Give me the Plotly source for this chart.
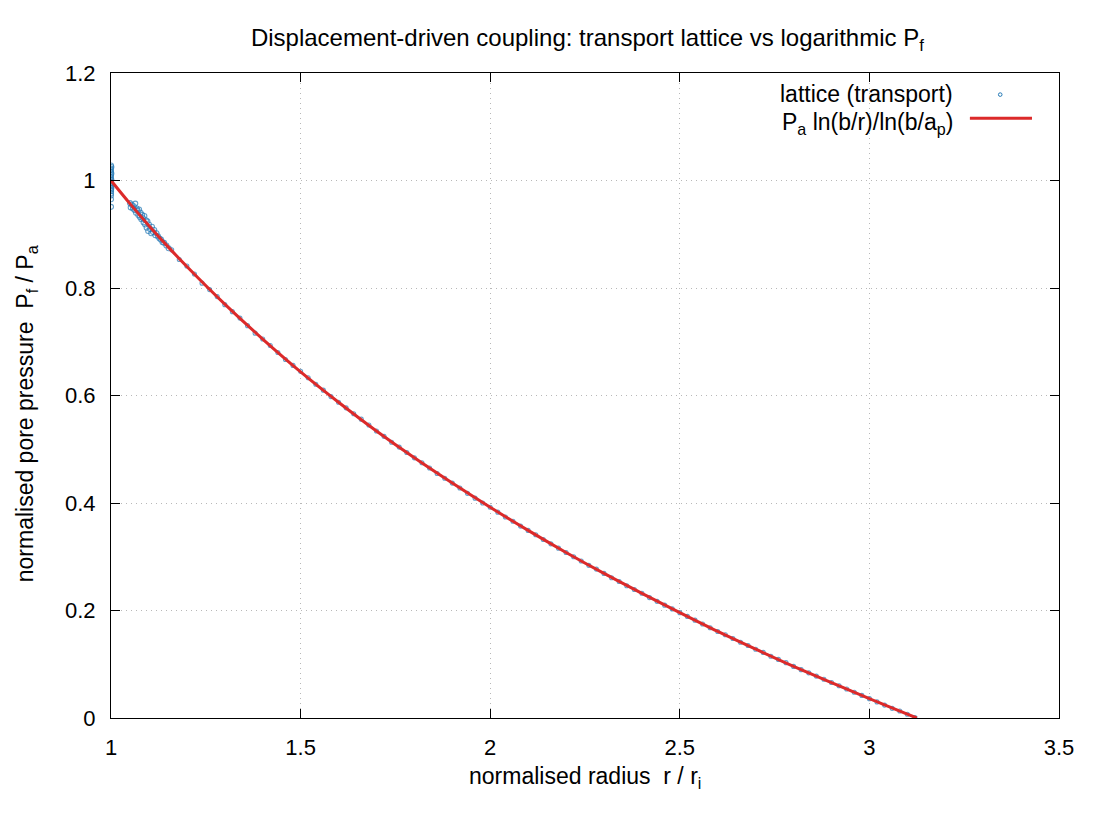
import plotly.graph_objects as go

# ---- data ----
# analytic curve  P_a ln(b/r)/ln(b/a_p)
curve_r = [1.0, 1.05, 1.1, 1.15, 1.2, 1.3, 1.4, 1.5, 1.6, 1.7, 1.8, 1.9, 2.0,
           2.1, 2.2, 2.3, 2.4, 2.5, 2.6, 2.7, 2.8, 2.9, 3.0, 3.125]
curve_p = [1.000, 0.957, 0.916, 0.877, 0.840, 0.770, 0.705, 0.644, 0.5875, 0.534,
           0.484, 0.437, 0.392, 0.349, 0.308, 0.269, 0.232, 0.196, 0.161, 0.128,
           0.096, 0.066, 0.036, 0.000]

# lattice (transport) nodes: inner boundary column
wall_r = [1.0, 1.001, 1.0, 0.999, 1.0, 1.001, 1.0, 0.999, 1.0, 1.001, 1.0, 1.0,
          0.999, 1.0, 1.001, 1.0, 1.0, 1.0, 1.0, 1.0, 1.0]
wall_p = [1.028, 1.025, 1.022, 1.019, 1.016, 1.013, 1.010, 1.007, 1.004, 1.001,
          0.998, 0.995, 0.992, 0.989, 0.986, 0.983, 0.980, 0.976, 0.972, 0.965, 0.951]

# lattice nodes: scattered cluster near the wall
near_r = [1.050, 1.052, 1.055, 1.058, 1.060, 1.062, 1.064, 1.066, 1.068, 1.070,
          1.072, 1.074, 1.076, 1.078, 1.080, 1.082, 1.084, 1.086, 1.088, 1.090,
          1.092, 1.094, 1.096, 1.098, 1.100, 1.103, 1.106, 1.108, 1.111, 1.114,
          1.117, 1.120, 1.124, 1.128, 1.132, 1.136, 1.140, 1.146, 1.152]
near_p = [0.958, 0.950, 0.955, 0.948, 0.952, 0.945, 0.957, 0.940, 0.948, 0.944,
          0.936, 0.946, 0.932, 0.940, 0.928, 0.936, 0.930, 0.922, 0.934, 0.918,
          0.926, 0.912, 0.924, 0.906, 0.918, 0.910, 0.902, 0.914, 0.904, 0.908,
          0.898, 0.902, 0.896, 0.892, 0.890, 0.885, 0.884, 0.879, 0.874]

# lattice nodes: far field
far_r = [1.16, 1.18, 1.20, 1.22, 1.24, 1.26, 1.28, 1.30, 1.32, 1.34, 1.36, 1.38,
         1.40, 1.42, 1.44, 1.46, 1.48, 1.50, 1.52, 1.54, 1.56, 1.58, 1.60, 1.62,
         1.64, 1.66, 1.68, 1.70, 1.72, 1.74, 1.76, 1.78, 1.80, 1.82, 1.84, 1.86,
         1.88, 1.90, 1.92, 1.94, 1.96, 1.98, 2.00, 2.02, 2.04, 2.06, 2.08, 2.10,
         2.12, 2.14, 2.16, 2.18, 2.20, 2.22, 2.24, 2.26, 2.28, 2.30, 2.32, 2.34,
         2.36, 2.38, 2.40, 2.42, 2.44, 2.46, 2.48, 2.50, 2.52, 2.54, 2.56, 2.58,
         2.60, 2.62, 2.64, 2.66, 2.68, 2.70, 2.72, 2.74, 2.76, 2.78, 2.80, 2.82,
         2.84, 2.86, 2.88, 2.90, 2.92, 2.94, 2.96, 2.98, 3.00, 3.02, 3.04, 3.06,
         3.08, 3.10, 3.12]
far_p = [0.871, 0.853, 0.841, 0.826, 0.809, 0.797, 0.784, 0.769, 0.756, 0.744,
         0.730, 0.716, 0.705, 0.693, 0.680, 0.667, 0.656, 0.645, 0.633, 0.621,
         0.610, 0.598, 0.5875, 0.577, 0.566, 0.556, 0.545, 0.534, 0.524, 0.513,
         0.504, 0.494, 0.484, 0.475, 0.465, 0.455, 0.446, 0.437, 0.428, 0.418,
         0.409, 0.400, 0.392, 0.383, 0.374, 0.366, 0.357, 0.349, 0.341, 0.332,
         0.324, 0.316, 0.308, 0.300, 0.292, 0.284, 0.277, 0.269, 0.261, 0.254,
         0.246, 0.239, 0.232, 0.224, 0.217, 0.210, 0.203, 0.196, 0.189, 0.182,
         0.175, 0.168, 0.161, 0.155, 0.148, 0.141, 0.135, 0.128, 0.122, 0.115,
         0.109, 0.103, 0.096, 0.090, 0.084, 0.078, 0.072, 0.066, 0.060, 0.054,
         0.048, 0.042, 0.036, 0.030, 0.024, 0.018, 0.013, 0.007, 0.001]

lattice_r = wall_r + near_r + far_r
lattice_p = wall_p + near_p + far_p

x_ticks = [1, 1.5, 2, 2.5, 3, 3.5]
y_ticks = [0, 0.2, 0.4, 0.6, 0.8, 1, 1.2]

BLUE = "#2278b5"
RED = "#dc2a2a"
FONT = "Liberation Sans, Arial, Helvetica, sans-serif"

marker_sizes = [5] * (len(wall_r) + len(near_r)) + [4] * len(far_r)

fig = go.Figure()
fig.add_trace(go.Scatter(
    x=lattice_r, y=lattice_p, mode="markers", name="lattice (transport)",
    marker=dict(symbol="circle-open", size=marker_sizes, color=BLUE,
                line=dict(width=1.1, color=BLUE)),
    showlegend=False))
fig.add_trace(go.Scatter(
    x=curve_r, y=curve_p, mode="lines", name="P_a ln(b/r)/ln(b/a_p)",
    line=dict(color=RED, width=3, shape="spline"), showlegend=False))

axis_common = dict(
    showline=True, linecolor="black", linewidth=1, mirror="ticks",
    ticks="inside", ticklen=9, tickcolor="black", tickwidth=1,
    showgrid=True, gridcolor="#b8b8b8", griddash="1px,4px", gridwidth=1,
    zeroline=False, tickfont=dict(family=FONT, size=22, color="black"),
)

fig.update_xaxes(range=[1, 3.5], tickvals=x_ticks, ticktext=[f"{v:g}" for v in x_ticks],
                 ticklabelstandoff=10, **axis_common)
fig.update_yaxes(range=[0, 1.2], tickvals=y_ticks, ticktext=[f"{v:g}" for v in y_ticks],
                 ticklabelstandoff=10, **axis_common)

# axis titles
fig.add_annotation(xref="paper", yref="paper", x=0.5, y=-0.093, xanchor="center",
                   yanchor="middle", showarrow=False,
                   text="normalised radius  r / r<sub>i</sub>",
                   font=dict(family=FONT, size=23, color="black"))
fig.add_annotation(xref="paper", yref="paper", x=-0.0896, y=0.471, xanchor="center",
                   yanchor="middle", showarrow=False, textangle=-90,
                   text="normalised pore pressure  P<sub>f</sub> / P<sub>a</sub>",
                   font=dict(family=FONT, size=23, color="black"))

# gnuplot-style legend (text right-aligned, sample to the right)
fig.add_annotation(xref="paper", yref="paper", x=0.8903, y=0.9674, xanchor="right",
                   yanchor="middle", showarrow=False, text="lattice (transport)",
                   font=dict(family=FONT, size=23, color="black"))
fig.add_annotation(xref="paper", yref="paper", x=0.8903, y=0.9215, xanchor="right",
                   yanchor="middle", showarrow=False,
                   text="P<sub>a</sub> ln(b/r)/ln(b/a<sub>p</sub>)",
                   font=dict(family=FONT, size=23, color="black"))
fig.add_shape(type="circle", xref="paper", yref="paper", xsizemode="pixel", ysizemode="pixel",
              xanchor=0.938, yanchor=0.9665, x0=-1.8, x1=1.8, y0=-1.8, y1=1.8,
              line=dict(color=BLUE, width=1))
fig.add_shape(type="line", xref="paper", yref="paper", x0=0.906, x1=0.9715, y0=0.930, y1=0.930,
              line=dict(color=RED, width=3))

fig.update_layout(
    width=1100, height=820, autosize=False,
    margin=dict(l=111, r=41, t=73, b=102),
    paper_bgcolor="white", plot_bgcolor="white",
    title=dict(text="Displacement-driven coupling: transport lattice vs logarithmic P<sub>f</sub>",
               x=0.534, xanchor="center", y=0.9537, yanchor="middle",
               font=dict(family=FONT, size=24, color="black")),
    font=dict(family=FONT, color="black"),
)

fig.write_html("out.html")
